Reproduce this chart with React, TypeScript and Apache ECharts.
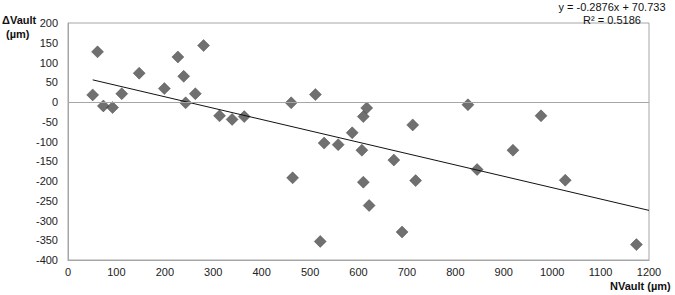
import React, { useEffect, useRef } from "react";
import * as echarts from "echarts";

const nvault: number[] = [51, 61, 73, 92, 111, 147, 199, 227, 239, 243, 263, 280, 313, 339, 364, 461, 464, 511, 521, 529, 558, 587, 607, 610, 617, 610, 622, 673, 690, 712, 718, 826, 845, 919, 977, 1027, 1174];
const dvault: number[] = [18, 127, -10, -14, 21, 73, 34, 114, 65, -2, 21, 143, -35, -44, -37, -2, -192, 19, -353, -104, -108, -78, -122, -37, -15, -203, -262, -147, -329, -58, -199, -7, -171, -122, -35, -198, -361];
const slope = -0.2876;
const intercept = 70.733;
const rSquared = 0.5186;
const trendX: number[] = [51, 1200];
const xTicks = { min: 0, max: 1200, interval: 100 };
const yTicks = { min: -400, max: 200, interval: 50 };

export default function App() {
  const ref = useRef<HTMLDivElement>(null);
  useEffect(() => {
    if (!ref.current) return;
    const chart = echarts.init(ref.current, undefined, { renderer: "svg" });
    const font = "'Liberation Sans', Arial, sans-serif";
    const pts = nvault.map((x, i) => [x, dvault[i]]);
    const trend = trendX.map((x) => [x, slope * x + intercept]);
    chart.setOption({
      animation: false,
      backgroundColor: "#ffffff",
      textStyle: { fontFamily: font },
      grid: {
        left: 68,
        right: 26,
        top: 23,
        bottom: 35,
        show: true,
        borderColor: "#a6a6a6",
        borderWidth: 1,
        backgroundColor: "transparent",
      },
      xAxis: {
        type: "value",
        min: xTicks.min,
        max: xTicks.max,
        interval: xTicks.interval,
        axisLine: { show: true, onZero: false, lineStyle: { color: "#a6a6a6" } },
        axisTick: { show: false },
        splitLine: { show: false },
        axisLabel: { color: "#222", fontSize: 11, fontFamily: font, margin: 6, formatter: (v: number) => String(v) },
      },
      yAxis: {
        type: "value",
        min: yTicks.min,
        max: yTicks.max,
        interval: yTicks.interval,
        axisLine: { show: true, lineStyle: { color: "#a6a6a6" } },
        axisTick: { show: false },
        splitLine: { show: false },
        axisLabel: { color: "#222", fontSize: 11, fontFamily: font, margin: 10, formatter: (v: number) => String(v) },
      },
      series: [
        {
          type: "scatter",
          data: pts,
          symbol: "diamond",
          symbolSize: 12,
          itemStyle: {
            color: "#4c4c4c",
            borderColor: "#3a3a3a",
            borderWidth: 0.5,
          },
          markLine: {
            silent: true,
            symbol: "none",
            label: { show: false },
            lineStyle: { color: "#a6a6a6", type: "solid", width: 1 },
            data: [{ yAxis: 0 }],
          },
          z: 3,
        },
        {
          type: "line",
          data: trend,
          showSymbol: false,
          symbol: "none",
          lineStyle: { color: "#111", width: 1 },
          z: 4,
        },
      ],
      graphic: [
        { type: "text", left: 2, top: 14, style: { text: "\u0394Vault", font: `bold 11px ${font}`, fill: "#111" } },
        { type: "text", left: 6, top: 28, style: { text: "(\u00b5m)", font: `bold 11px ${font}`, fill: "#111" } },
        { type: "text", left: 610, top: 280, style: { text: "NVault (\u00b5m)", font: `bold 11px ${font}`, fill: "#111" } },
        {
          type: "text",
          x: 612,
          y: 0,
          style: {
            text: `y = ${slope}x + ${intercept}\nR\u00b2 = ${rSquared}`,
            font: `11px ${font}`,
            fill: "#111",
            align: "center",
            lineHeight: 13,
          },
        },
      ],
    });
    return () => chart.dispose();
  }, []);
  return <div ref={ref} style={{ position: "fixed", left: 0, top: 0, width: 675, height: 295 }} />;
}
